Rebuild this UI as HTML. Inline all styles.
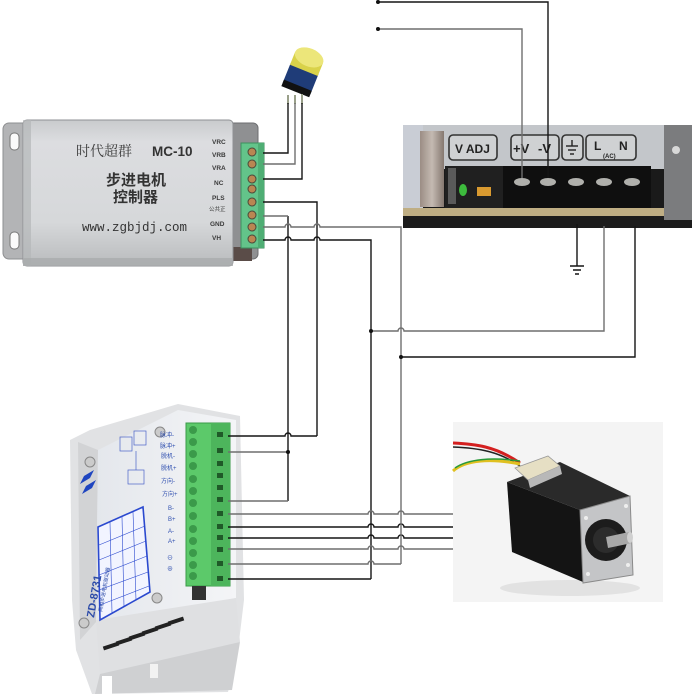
<!DOCTYPE html>
<html><head><meta charset="utf-8">
<style>
html,body{margin:0;padding:0;background:#fff;}
svg{display:block;font-family:"Liberation Sans","Noto Sans CJK SC",sans-serif;}
</style></head>
<body>
<svg width="692" height="696" viewBox="0 0 692 696" xmlns="http://www.w3.org/2000/svg">
<defs>
<linearGradient id="alu" x1="0" y1="0" x2="0" y2="1">
<stop offset="0" stop-color="#c9cbcd"/><stop offset="0.15" stop-color="#dcdde0"/><stop offset="0.7" stop-color="#d6d8da"/><stop offset="1" stop-color="#b9bbbd"/>
</linearGradient>
<linearGradient id="brk" x1="0" y1="0" x2="1" y2="0">
<stop offset="0" stop-color="#9b8d84"/><stop offset="0.5" stop-color="#c4bab2"/><stop offset="1" stop-color="#857870"/>
</linearGradient>
<linearGradient id="face" x1="0" y1="0" x2="1" y2="0">
<stop offset="0" stop-color="#e4e7ec"/><stop offset="1" stop-color="#f4f5f7"/>
</linearGradient>
</defs>

<!-- ===== Controller MC-10 ===== -->
<rect x="3" y="123" width="40" height="136" rx="6" fill="#b3b4b6" stroke="#8e8f91"/>
<rect x="10" y="133" width="9" height="17" rx="4" fill="#fafafa" stroke="#777"/>
<rect x="10" y="232" width="9" height="17" rx="4" fill="#fafafa" stroke="#777"/>
<rect x="222" y="123" width="36" height="136" rx="5" fill="#8f9092" stroke="#6d6e70"/>
<rect x="226" y="247" width="26" height="14" fill="#5a4c48"/>
<rect x="23" y="120" width="210" height="146" rx="4" fill="url(#alu)" stroke="#8f9194"/>
<rect x="23" y="120" width="8" height="146" fill="#b4b6b8" opacity="0.7"/>
<rect x="23" y="258" width="210" height="8" fill="#a9abad" opacity="0.8"/>
<text x="76" y="156" font-size="14" fill="#3a3a3a" style="font-family:'Liberation Serif','Noto Serif CJK SC',serif">时代超群</text>
<text x="152" y="156" font-size="13.5" fill="#333" font-weight="bold">MC-10</text>
<text x="106" y="185" font-size="15" fill="#333" font-weight="bold">步进电机</text>
<text x="113" y="202" font-size="15" fill="#333" font-weight="bold">控制器</text>
<text x="82" y="231" font-size="12.5" fill="#333" style="font-family:'Liberation Mono',monospace">www.zgbjdj.com</text>
<g font-size="6.5" font-weight="bold" fill="#3a3a3a">
<text x="212" y="144">VRC</text><text x="212" y="157">VRB</text><text x="212" y="170">VRA</text>
<text x="214" y="185">NC</text><text x="212" y="200">PLS</text>
<text x="209" y="211" font-size="5.5" font-weight="normal">公共正</text>
<text x="210" y="226">GND</text><text x="212" y="240">VH</text>
</g>
<rect x="241" y="143" width="23" height="105" fill="#63c48a" stroke="#3e8f5e"/>
<rect x="258" y="143" width="6" height="105" fill="#4fae74"/>
<g fill="#b98652" stroke="#4a4a3a" stroke-width="1">
<circle cx="252" cy="152" r="4"/><circle cx="252" cy="164" r="4"/><circle cx="252" cy="179" r="4"/><circle cx="252" cy="189" r="4"/>
<circle cx="252" cy="202" r="4"/><circle cx="252" cy="215" r="4"/><circle cx="252" cy="227" r="4"/><circle cx="252" cy="239" r="4"/>
</g>

<!-- ===== Potentiometer ===== -->
<g transform="rotate(22 302 75)">
<rect x="287" y="66" width="30" height="26" rx="3" fill="#1f3c78"/>
<rect x="287" y="86" width="30" height="7" fill="#111"/>
<rect x="287" y="56" width="30" height="14" fill="#d9d24a"/>
<ellipse cx="302" cy="56" rx="15" ry="9" fill="#ece67a"/>
</g>
<g stroke="#9aa08a" stroke-width="2"><line x1="288" y1="95" x2="288" y2="104"/><line x1="295" y1="95" x2="295" y2="104"/><line x1="302" y1="94" x2="302" y2="104"/></g>

<!-- ===== Power supply ===== -->
<rect x="403" y="125" width="289" height="103" fill="#1a1a1a"/>
<rect x="403" y="125" width="289" height="44" fill="#c3c6ca"/>
<rect x="403" y="125" width="20" height="85" fill="#c9cdd5"/>
<rect x="420" y="131" width="24" height="76" fill="url(#brk)"/>
<rect x="445" y="166" width="58" height="42" fill="#202020"/>
<rect x="448" y="168" width="8" height="36" fill="#5a5a5a"/>
<ellipse cx="463" cy="190" rx="4" ry="6" fill="#3dbb3d"/>
<rect x="477" y="187" width="14" height="9" fill="#d99a30"/>
<rect x="503" y="166" width="148" height="42" fill="#0f0f0f"/>
<g fill="#b0b0ac"><ellipse cx="522" cy="182" rx="8" ry="4"/><ellipse cx="548" cy="182" rx="8" ry="4"/><ellipse cx="576" cy="182" rx="8" ry="4"/><ellipse cx="604" cy="182" rx="8" ry="4"/><ellipse cx="632" cy="182" rx="8" ry="4"/></g>
<rect x="403" y="208" width="289" height="8" fill="#bfae84"/>
<rect x="403" y="216" width="289" height="12" fill="#1c1c1c"/>
<rect x="664" y="125" width="28" height="95" fill="#7b7c7e"/>
<circle cx="676" cy="150" r="4" fill="#d8d8d8"/>
<g fill="#cfd1d3" stroke="#333" stroke-width="1.6">
<rect x="449" y="135" width="48" height="25" rx="4"/>
<rect x="511" y="135" width="48" height="25" rx="4"/>
<rect x="562" y="135" width="21" height="25" rx="4"/>
<rect x="586" y="135" width="50" height="25" rx="4"/>
</g>
<text x="455" y="153" font-size="12" font-weight="bold" fill="#222">V ADJ</text>
<text x="513" y="153" font-size="13" font-weight="bold" fill="#222">+V</text>
<text x="538" y="153" font-size="13" font-weight="bold" fill="#222">-V</text>
<g stroke="#222" stroke-width="1.4"><line x1="572" y1="140" x2="572" y2="146"/><line x1="566" y1="146" x2="578" y2="146"/><line x1="568" y1="150" x2="576" y2="150"/><line x1="570" y1="154" x2="574" y2="154"/></g>
<text x="594" y="150" font-size="12" font-weight="bold" fill="#222">L</text>
<text x="619" y="150" font-size="12" font-weight="bold" fill="#222">N</text>
<text x="603" y="158" font-size="6" font-weight="bold" fill="#222">(AC)</text>

<!-- ===== Driver ZD-8731 ===== -->
<polygon points="70,440 90,430 178,404 240,416 244,600 238,650 228,692 92,694 76,650 72,600" fill="#e1e2e4"/>
<polygon points="78,442 98,450 96,622 80,640" fill="#d2d3d5"/>
<polygon points="98,450 178,410 236,420 236,598 110,624 96,620" fill="url(#face)"/>
<polygon points="96,620 236,598 240,642 100,674" fill="#dfe0e2"/>
<polygon points="100,674 240,642 232,690 95,694" fill="#cfd0d2"/>
<rect x="102" y="676" width="10" height="20" fill="#fff"/>
<rect x="150" y="664" width="8" height="14" fill="#f2f2f2"/>
<g fill="#222">
<rect x="103" y="644" width="16" height="4" transform="rotate(-18 111 646)"/>
<rect x="116" y="639" width="16" height="4" transform="rotate(-18 124 641)"/>
<rect x="129" y="634" width="16" height="4" transform="rotate(-18 137 636)"/>
<rect x="142" y="629" width="16" height="4" transform="rotate(-18 150 631)"/>
<rect x="155" y="624" width="16" height="4" transform="rotate(-18 163 626)"/>
<rect x="168" y="619" width="16" height="4" transform="rotate(-18 176 621)"/>
</g>
<g fill="#cbcbcb" stroke="#888"><circle cx="90" cy="462" r="5"/><circle cx="160" cy="432" r="5"/><circle cx="157" cy="598" r="5"/><circle cx="84" cy="623" r="5"/></g>
<polygon points="98,527 143,507 150,592 100,620" fill="#f2f4ff" stroke="#2b49cf" stroke-width="1.6"/>
<g stroke="#2b49cf" stroke-width="0.6">
<line x1="99" y1="545" x2="145" y2="526"/><line x1="99" y1="560" x2="146" y2="541"/><line x1="99" y1="575" x2="147" y2="556"/><line x1="99" y1="590" x2="148" y2="572"/><line x1="100" y1="605" x2="149" y2="586"/>
<line x1="110" y1="522" x2="112" y2="613"/><line x1="122" y1="517" x2="124" y2="607"/><line x1="133" y1="512" x2="136" y2="600"/>
</g>
<g stroke="#4a63c8" stroke-width="0.7" fill="none"><rect x="120" y="437" width="12" height="14"/><rect x="134" y="431" width="12" height="14"/><rect x="128" y="470" width="16" height="14"/><line x1="136" y1="451" x2="136" y2="470"/></g>
<polygon points="84,476 94,470 90,478 80,484" fill="#1f45c0"/>
<polygon points="86,486 96,480 92,488 82,494" fill="#1f45c0"/>
<text transform="translate(94 618) rotate(-80)" font-size="11" fill="#2b4aa8" font-weight="bold">ZD-8731</text>
<text transform="translate(102 612) rotate(-80)" font-size="5" fill="#2b4aa8">两相步进电机驱动器</text>
<g font-size="6" fill="#3050b0">
<text x="160" y="437">脉冲-</text><text x="160" y="448">脉冲+</text><text x="161" y="458">脱机-</text><text x="161" y="470">脱机+</text>
<text x="161" y="483">方向-</text><text x="162" y="496">方向+</text><text x="168" y="510">B-</text><text x="168" y="521">B+</text>
<text x="168" y="533">A-</text><text x="168" y="543">A+</text><text x="167" y="560">⊖</text><text x="167" y="571">⊕</text>
</g>
<rect x="186" y="423" width="44" height="163" fill="#5cc96a" stroke="#3a9a48"/>
<rect x="211" y="423" width="19" height="163" fill="#4db55c"/>
<g fill="#3b9a4a"><circle cx="193" cy="430" r="4"/><circle cx="193" cy="442" r="4"/><circle cx="193" cy="454" r="4"/><circle cx="193" cy="466" r="4"/><circle cx="193" cy="479" r="4"/><circle cx="193" cy="491" r="4"/><circle cx="193" cy="503" r="4"/><circle cx="193" cy="516" r="4"/><circle cx="193" cy="529" r="4"/><circle cx="193" cy="541" r="4"/><circle cx="193" cy="553" r="4"/><circle cx="193" cy="565" r="4"/><circle cx="193" cy="576" r="4"/></g>
<g fill="#1f5a28"><rect x="217" y="432" width="6" height="5"/><rect x="217" y="448" width="6" height="5"/><rect x="217" y="461" width="6" height="5"/><rect x="217" y="473" width="6" height="5"/><rect x="217" y="485" width="6" height="5"/><rect x="217" y="497" width="6" height="5"/><rect x="217" y="511" width="6" height="5"/><rect x="217" y="524" width="6" height="5"/><rect x="217" y="535" width="6" height="5"/><rect x="217" y="547" width="6" height="5"/><rect x="217" y="561" width="6" height="5"/><rect x="217" y="576" width="6" height="5"/></g>
<rect x="192" y="586" width="14" height="14" fill="#333"/>

<!-- ===== Stepper motor ===== -->
<rect x="453" y="422" width="210" height="180" fill="#f4f4f4"/>
<ellipse cx="570" cy="588" rx="70" ry="8" fill="#e2e2e2"/>
<path d="M453,443 C475,444 495,446 520,463" stroke="#d42020" stroke-width="3" fill="none"/>
<path d="M453,447 C480,448 500,452 520,466" stroke="#222" stroke-width="1.5" fill="none"/>
<path d="M453,471 C465,460 490,458 520,464" stroke="#e0c020" stroke-width="3" fill="none"/>
<path d="M455,468 C468,459 492,457 520,461" stroke="#2a9a3a" stroke-width="1.5" fill="none"/>
<polygon points="507,482 560,462 630,496 580,510" fill="#2a2a2a"/>
<polygon points="507,482 580,510 583,582 512,552" fill="#141414"/>
<polygon points="515,468 548,456 560,466 528,480" fill="#e6dfc4" stroke="#999" stroke-width="0.8"/>
<polygon points="528,480 560,466 562,474 530,488" fill="#b8b8b8"/>
<polygon points="580,510 630,496 633,575 583,583" fill="#c4c5c7" stroke="#8a8a8a"/>
<circle cx="606" cy="540" r="21" fill="#1c1c1c"/>
<circle cx="606" cy="540" r="13" fill="#2c2c2c"/>
<g fill="#eee"><circle cx="586" cy="518" r="2"/><circle cx="626" cy="506" r="2"/><circle cx="588" cy="574" r="2"/><circle cx="628" cy="565" r="2"/></g>
<polygon points="606,537 629,532 632,543 608,548" fill="#a8a8a8"/>
<ellipse cx="630" cy="537.5" rx="3" ry="5.5" fill="#d0d0d0"/>

<!-- ===== Wires ===== -->
<g fill="none" stroke-width="1.4">
<path stroke="#151515" d="M288,103 V153 H263 M302,103 V179 H263
 M263,202 H317 V436 M228,436 H285 A3,3 0 0 1 291,436 H317
 M288,216 V501
 M263,240 H285 A3,3 0 0 1 291,240 H314 A3,3 0 0 1 320,240 H371 V579 M228,579 H371
 M401,357 H635 V226
 M378,2 H548 V178
 M577,224 V266
 M228,527 H368 A3,3 0 0 1 374,527 H398 A3,3 0 0 1 404,527 H453
 M228,538 H368 A3,3 0 0 1 374,538 H398 A3,3 0 0 1 404,538 H453"/>
<path stroke="#6f6f6f" d="M295,103 V164 H263
 M263,216 H288
 M263,227 H285 A3,3 0 0 1 291,227 H314 A3,3 0 0 1 320,227 H401 V564
 M371,331 H398 A3,3 0 0 1 404,331 H604 V226
 M378,29 H522 V178
 M228,452 H288 M228,501 H288
 M228,564 H368 A3,3 0 0 1 374,564 H401
 M228,514 H368 A3,3 0 0 1 374,514 H398 A3,3 0 0 1 404,514 H453
 M228,549 H368 A3,3 0 0 1 374,549 H398 A3,3 0 0 1 404,549 H453"/>
<path stroke="#151515" d="M570,266 H584 M573,270 H581 M575,274 H579"/>
</g>
<g fill="#111"><circle cx="378" cy="2" r="2"/><circle cx="378" cy="29" r="2"/><circle cx="371" cy="331" r="2"/><circle cx="401" cy="357" r="2"/><circle cx="288" cy="452" r="2"/></g>
</svg>
</body></html>
